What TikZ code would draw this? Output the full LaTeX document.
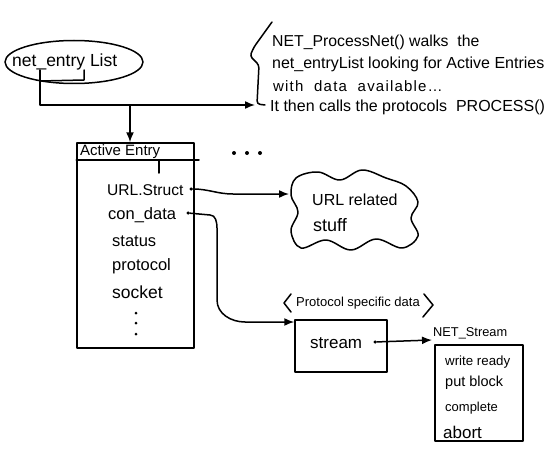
\documentclass[tikz,border=0pt]{standalone}
\usepackage{fontspec}
\setmainfont{Liberation Sans}
\usetikzlibrary{arrows.meta,shapes.geometric,calc}
\begin{document}
\begin{tikzpicture}[x=1pt,y=-1pt,
  ink/.style={line width=1.5pt,line cap=round,line join=round},
  arr/.style={ink,-{Latex[length=10pt,width=8pt]}},
  txt/.style={font=\fontsize{#1}{#1}\selectfont,inner sep=0pt,anchor=west},
  dotmark/.style={circle,fill,inner sep=0pt,minimum size=3.5pt}]
\useasboundingbox (0,0) rectangle (560,452);

% net_entry list ellipse
\node[ellipse,draw,ink,minimum width=138,minimum height=43] (list) at (74,62) {};
\node[txt=17.5] (listtxt) at (12,62) {net\_entry List};
\coordinate (ls) at (40,70);
\coordinate (lb) at (40,105);
\coordinate (lj) at (130,105);
\draw[ink] (40,81) -- (84,80) -- (84,70);
\coordinate (bracearr) at (255,105);

% comment with brace
\draw[ink,rounded corners=3pt] (272,22) -- (254,47) -- (250,56) -- (259,65) -- (257,104) -- (265,105);
\node[txt=15.8] (c1) at (272,42) {NET\_ProcessNet() walks\ \ the};
\node[txt=16] (c2) at (272,64) {net\_entryList looking for Active Entries};
\node[txt=15] (c3) at (273,86) {\addfontfeature{LetterSpace=8}with\ \ data\ \ available\dots};
\node[txt=16] (c4) at (270,107) {It then calls the protocols\ \ PROCESS()};

\draw[ink] (ls) -- (lb) -- (lj);
\draw[arr] (lj) -- (bracearr);

% Active entry box
\node[draw,ink,minimum width=117,minimum height=205,inner sep=0pt] (ae) at (135.5,245.5) {};
\draw[ink] (ae.west |- 0,160) -- (199,160);
\draw[ink] (159,160) -- (159,173);
\node[txt=15] (aet) at (80,152) {Active Entry};
\draw[arr] (lj) -- (ae.north -| lj);

\node[txt=15.6] (f1) at (107,190) {URL.Struct};
\node[txt=16.5] (f2) at (108,215) {con\_data};
\node[txt=16.5] (f3) at (112,241) {status};
\node[txt=16.5] (f4) at (112,266) {protocol};
\node[txt=17.5] (f5) at (112,292) {socket};
\node[dotmark,minimum size=3pt] (v1) at (136,313) {};
\node[dotmark,minimum size=3pt] (v2) at (136,323) {};
\node[dotmark,minimum size=3pt] (v3) at (136,334) {};

\node[dotmark,minimum size=4pt] (e1) at (234,153) {};
\node[dotmark,minimum size=4pt] (e2) at (247,153) {};
\node[dotmark,minimum size=4pt] (e3) at (260,153) {};

% URL cloud
\draw[ink] plot[smooth cycle,tension=0.6] coordinates {(296,178) (318,172) (340,180) (362,170) (386,178) (406,186) (418,202) (411,218) (418,236) (402,248) (376,239) (351,250) (326,240) (301,248) (291,231) (298,212) (291,195)};
\node[txt=16] (urlt1) at (312,200) {URL related};
\node[txt=18] (urlt2) at (313,225) {stuff};
\coordinate (cloudin) at (289,194);

\node[dotmark] (d1) at (191,189) {};
\node[dotmark] (d2) at (188,213) {};
\draw[arr] (d1) to[out=0,in=180] (233,194) -- (cloudin);

% protocol specific data
\node[txt=13] (psd) at (296,303) {Protocol specific data};
\draw[ink] ($(psd.west)+(-5,-9)$) -- ($(psd.west)+(-12,0)$) -- ($(psd.west)+(-5,9)$);
\draw[ink] ($(psd.east)+(4,-9)$) -- ($(psd.east)+(13,2)$) -- ($(psd.east)+(3,14)$);
\node[draw,ink,minimum width=92,minimum height=52,inner sep=0pt] (sb) at (341,346) {};
\node[txt=17] (st) at (310,343) {stream};
\coordinate (sbin) at (sb.west |- 0,322);
\draw[arr] (d2) -- (210,215) to[out=0,in=90] (217,228) -- (217,300) to[out=-90,in=180] (245,322) -- (sbin);

\node[dotmark] (d3) at (375,342) {};
\node[txt=12.8] (nst) at (433,333) {NET\_Stream};
\coordinate (nsin) at (432,340);
\draw[arr] (d3) -- (nsin);
\node[draw,ink,minimum width=88,minimum height=96,inner sep=0pt] (nsb) at (479,393) {};
\node[txt=13.3] (n1) at (445,362) {write ready};
\node[txt=14.5] (n2) at (445,383) {put block};
\node[txt=13] (n3) at (445,408) {complete};
\node[txt=17] (n4) at (443,432) {abort};
\end{tikzpicture}
\end{document}
